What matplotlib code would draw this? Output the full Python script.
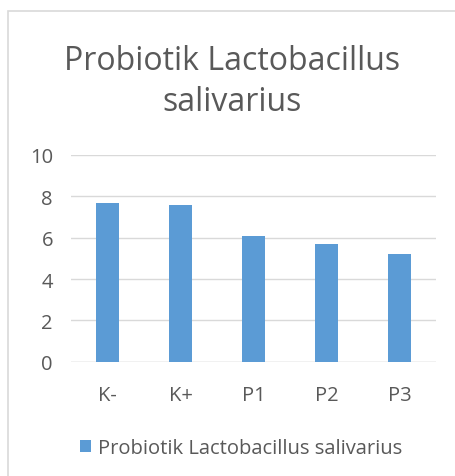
import matplotlib.pyplot as plt
from matplotlib.patches import Rectangle
import numpy as np

categories = ["K-", "K+", "P1", "P2", "P3"]
values = [7.7, 7.6, 6.1, 5.7, 5.2]
series_name = "Probiotik Lactobacillus salivarius"
title = "Probiotik Lactobacillus\nsalivarius"

plt.rcParams["font.family"] = ["Open Sans", "DejaVu Sans"]
text_color = "#595959"
bar_color = "#5B9BD5"
grid_color = "#D9D9D9"

W, H = 456, 477
fig = plt.figure(figsize=(W / 100, H / 100), dpi=100)

# chart frame (left and top edges visible, rest cropped)
fig.patches.append(Rectangle((8 / W, -0.1), 1.2, 1.1 - 12 / H, transform=fig.transFigure,
                             fill=False, edgecolor=grid_color, linewidth=1.2))

ax = fig.add_axes([71 / W, 1 - 362.7 / H, 365 / W, 206.7 / H])
x = np.arange(len(categories))
ax.bar(x, values, width=0.31, color=bar_color, zorder=3, label=series_name)
ax.set_xlim(-0.5, len(categories) - 0.5)
ax.set_ylim(0, 10)
ax.set_yticks(range(0, 11, 2))
ax.grid(axis="y", color=grid_color, linewidth=1, zorder=0)
for s in ax.spines.values():
    s.set_visible(False)
ax.tick_params(length=0, labelsize=14.5, colors=text_color)
ax.tick_params(axis="y", pad=13)
ax.tick_params(axis="x", pad=17)
ax.set_xticks(x)
ax.set_xticklabels(categories)
ax.axhline(0, color=grid_color, linewidth=1, zorder=2)

fig.text(232 / W, 1 - 82 / H, title, ha="center", va="center", fontsize=23,
         color=text_color, linespacing=1.3)

leg = fig.legend(loc="center", bbox_to_anchor=(241 / W, 1 - 449 / H), frameon=False,
                 fontsize=14.5, handlelength=0.55, handleheight=0.55, handletextpad=0.35,
                 labelcolor=text_color)

fig.savefig("out.png", dpi=100)
